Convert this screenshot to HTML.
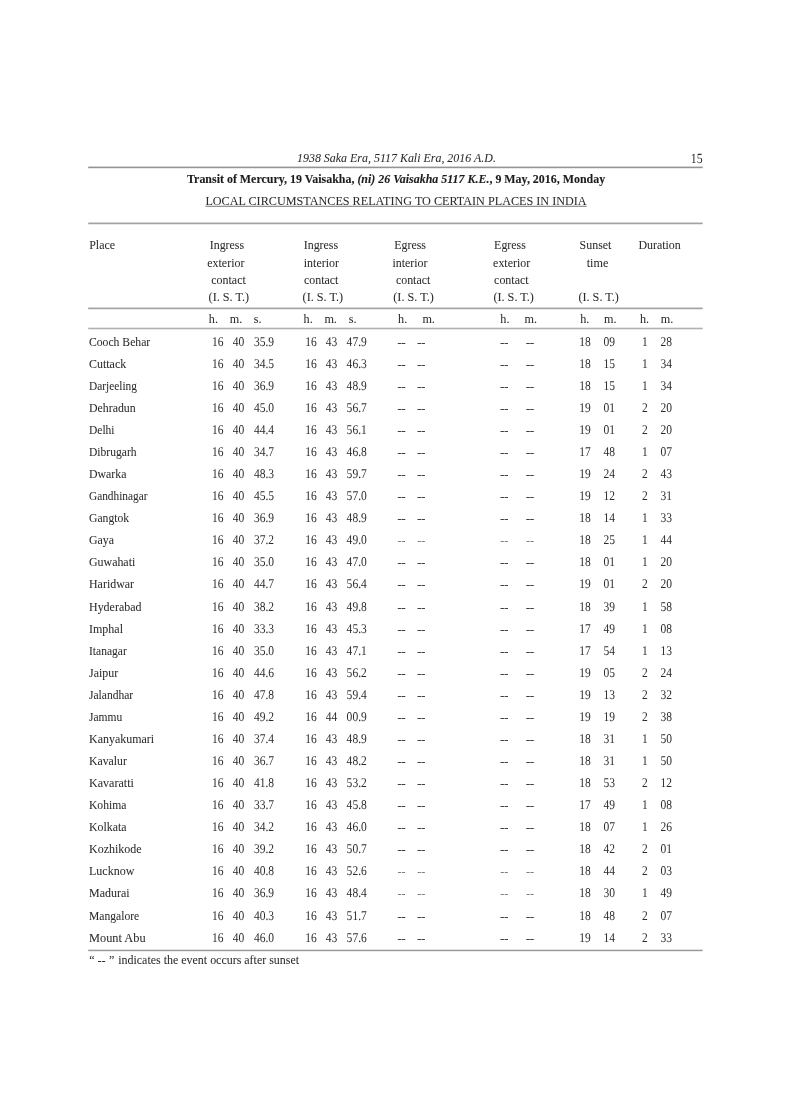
<!DOCTYPE html>
<html><head><meta charset="utf-8"><title>Transit of Mercury - Local Circumstances</title>
<style>
html,body{margin:0;padding:0;background:#fff;}
body{width:791px;height:1119px;overflow:hidden;}
svg{display:block;filter:grayscale(1);}
text{font-family:"Liberation Serif","Times New Roman",serif;font-size:12.7px;fill:#2b2b2b;stroke:#2b2b2b;stroke-width:0.04px;}
.it{font-style:italic;}
.n{text-rendering:geometricPrecision;stroke:none;}
.b{font-weight:bold;fill:#1c1c1c;stroke:#1c1c1c;stroke-width:0.1px;}
.bi{font-style:italic;}
.d{fill:#3c3c3c;stroke:#3c3c3c;stroke-width:0.25px;}
.d.light{fill:#7a7a7a;stroke:#7a7a7a;stroke-width:0px;}
</style></head>
<body>
<svg width="791" height="1119" viewBox="0 0 791 1119">

<g>
<rect x="0" y="0" width="791" height="1119" fill="#fff"/>
<rect x="88.2" y="166.60" width="614.5" height="1.6" fill="#939393"/>
<rect x="88.2" y="222.55" width="614.5" height="1.7" fill="#a2a2a2"/>
<rect x="88.2" y="307.55" width="614.5" height="1.7" fill="#a2a2a2"/>
<rect x="88.2" y="327.70" width="614.5" height="1.6" fill="#b0b0b0"/>
<rect x="88.2" y="949.70" width="614.5" height="1.5" fill="#9a9a9a"/>
<rect x="205.4" y="205.8" width="381.2" height="0.9" fill="#666"/>
<text x="297.00" y="161.70" class="it" textLength="198.90" lengthAdjust="spacingAndGlyphs" style="font-size:11.86px">1938 Saka Era, 5117 Kali Era, 2016 A.D.</text>
<text transform="translate(702.60 162.80) scale(0.84 1)" class="n" text-anchor="end" style="font-size:14.0px">15</text>
<text x="187.0" y="182.9" class="b" style="font-size:11.94px" textLength="418.2" lengthAdjust="spacingAndGlyphs">Transit of Mercury, 19 Vaisakha, <tspan class="bi">(ni) 26 Vaisakha 5117 K.E.</tspan>, 9 May, 2016, Monday</text>
<text x="205.40" y="205.00" textLength="381.20" lengthAdjust="spacingAndGlyphs" style="font-size:12.16px">LOCAL CIRCUMSTANCES RELATING TO CERTAIN PLACES IN INDIA</text>
<text transform="translate(89.20 249.30) scale(0.94 1)">Place</text>
<text transform="translate(209.70 249.30) scale(0.94 1)">Ingress</text>
<text transform="translate(207.30 266.60) scale(0.94 1)">exterior</text>
<text transform="translate(211.30 283.50) scale(0.94 1)">contact</text>
<text transform="translate(208.60 300.60) scale(0.96 1)">(I. S. T.)</text>
<text transform="translate(303.70 249.30) scale(0.94 1)">Ingress</text>
<text transform="translate(303.80 266.60) scale(0.94 1)">interior</text>
<text transform="translate(304.00 283.50) scale(0.94 1)">contact</text>
<text transform="translate(302.60 300.60) scale(0.96 1)">(I. S. T.)</text>
<text transform="translate(394.20 249.30) scale(0.94 1)">Egress</text>
<text transform="translate(392.40 266.60) scale(0.94 1)">interior</text>
<text transform="translate(395.90 283.50) scale(0.94 1)">contact</text>
<text transform="translate(393.30 300.60) scale(0.96 1)">(I. S. T.)</text>
<text transform="translate(494.10 249.30) scale(0.94 1)">Egress</text>
<text transform="translate(493.10 266.60) scale(0.94 1)">exterior</text>
<text transform="translate(494.10 283.50) scale(0.94 1)">contact</text>
<text transform="translate(493.40 300.60) scale(0.96 1)">(I. S. T.)</text>
<text transform="translate(579.60 249.30) scale(0.94 1)">Sunset</text>
<text transform="translate(586.70 266.60) scale(0.96 1)">time</text>
<text transform="translate(578.40 300.60) scale(0.96 1)">(I. S. T.)</text>
<text transform="translate(638.40 249.30) scale(0.94 1)">Duration</text>
<text transform="translate(208.80 323.30) scale(0.96 1)">h.</text>
<text transform="translate(229.80 323.30) scale(0.96 1)">m.</text>
<text transform="translate(253.70 323.30) scale(0.96 1)">s.</text>
<text transform="translate(303.60 323.30) scale(0.96 1)">h.</text>
<text transform="translate(324.40 323.30) scale(0.96 1)">m.</text>
<text transform="translate(348.70 323.30) scale(0.96 1)">s.</text>
<text transform="translate(398.10 323.30) scale(0.96 1)">h.</text>
<text transform="translate(422.40 323.30) scale(0.96 1)">m.</text>
<text transform="translate(500.30 323.30) scale(0.96 1)">h.</text>
<text transform="translate(524.60 323.30) scale(0.96 1)">m.</text>
<text transform="translate(580.20 323.30) scale(0.96 1)">h.</text>
<text transform="translate(604.10 323.30) scale(0.96 1)">m.</text>
<text transform="translate(639.90 323.30) scale(0.96 1)">h.</text>
<text transform="translate(660.70 323.30) scale(0.96 1)">m.</text>
<text transform="translate(89.00 345.70) scale(0.9188 1)">Cooch Behar</text>
<text transform="translate(217.70 345.70) scale(0.86 1)" class="n" text-anchor="middle" style="font-size:13.4px">16</text>
<text transform="translate(238.45 345.70) scale(0.86 1)" class="n" text-anchor="middle" style="font-size:13.4px">40</text>
<text transform="translate(264.00 345.70) scale(0.86 1)" class="n" text-anchor="middle" style="font-size:13.4px">35.9</text>
<text transform="translate(310.90 345.70) scale(0.86 1)" class="n" text-anchor="middle" style="font-size:13.4px">16</text>
<text transform="translate(331.40 345.70) scale(0.86 1)" class="n" text-anchor="middle" style="font-size:13.4px">43</text>
<text transform="translate(356.70 345.70) scale(0.86 1)" class="n" text-anchor="middle" style="font-size:13.4px">47.9</text>
<text transform="translate(397.50 345.70) scale(0.96 1)" class="d">--</text>
<text transform="translate(417.30 345.70) scale(0.96 1)" class="d">--</text>
<text transform="translate(500.30 345.70) scale(0.96 1)" class="d">--</text>
<text transform="translate(525.90 345.70) scale(0.96 1)" class="d">--</text>
<text transform="translate(585.00 345.70) scale(0.86 1)" class="n" text-anchor="middle" style="font-size:13.4px">18</text>
<text transform="translate(609.30 345.70) scale(0.86 1)" class="n" text-anchor="middle" style="font-size:13.4px">09</text>
<text transform="translate(644.95 345.70) scale(0.86 1)" class="n" text-anchor="middle" style="font-size:13.4px">1</text>
<text transform="translate(666.20 345.70) scale(0.86 1)" class="n" text-anchor="middle" style="font-size:13.4px">28</text>
<text transform="translate(89.00 367.77) scale(0.9424 1)">Cuttack</text>
<text transform="translate(217.70 367.77) scale(0.86 1)" class="n" text-anchor="middle" style="font-size:13.4px">16</text>
<text transform="translate(238.45 367.77) scale(0.86 1)" class="n" text-anchor="middle" style="font-size:13.4px">40</text>
<text transform="translate(264.00 367.77) scale(0.86 1)" class="n" text-anchor="middle" style="font-size:13.4px">34.5</text>
<text transform="translate(310.90 367.77) scale(0.86 1)" class="n" text-anchor="middle" style="font-size:13.4px">16</text>
<text transform="translate(331.40 367.77) scale(0.86 1)" class="n" text-anchor="middle" style="font-size:13.4px">43</text>
<text transform="translate(356.70 367.77) scale(0.86 1)" class="n" text-anchor="middle" style="font-size:13.4px">46.3</text>
<text transform="translate(397.50 367.77) scale(0.96 1)" class="d">--</text>
<text transform="translate(417.30 367.77) scale(0.96 1)" class="d">--</text>
<text transform="translate(500.30 367.77) scale(0.96 1)" class="d">--</text>
<text transform="translate(525.90 367.77) scale(0.96 1)" class="d">--</text>
<text transform="translate(585.00 367.77) scale(0.86 1)" class="n" text-anchor="middle" style="font-size:13.4px">18</text>
<text transform="translate(609.30 367.77) scale(0.86 1)" class="n" text-anchor="middle" style="font-size:13.4px">15</text>
<text transform="translate(644.95 367.77) scale(0.86 1)" class="n" text-anchor="middle" style="font-size:13.4px">1</text>
<text transform="translate(666.20 367.77) scale(0.86 1)" class="n" text-anchor="middle" style="font-size:13.4px">34</text>
<text transform="translate(89.00 389.84) scale(0.8955 1)">Darjeeling</text>
<text transform="translate(217.70 389.84) scale(0.86 1)" class="n" text-anchor="middle" style="font-size:13.4px">16</text>
<text transform="translate(238.45 389.84) scale(0.86 1)" class="n" text-anchor="middle" style="font-size:13.4px">40</text>
<text transform="translate(264.00 389.84) scale(0.86 1)" class="n" text-anchor="middle" style="font-size:13.4px">36.9</text>
<text transform="translate(310.90 389.84) scale(0.86 1)" class="n" text-anchor="middle" style="font-size:13.4px">16</text>
<text transform="translate(331.40 389.84) scale(0.86 1)" class="n" text-anchor="middle" style="font-size:13.4px">43</text>
<text transform="translate(356.70 389.84) scale(0.86 1)" class="n" text-anchor="middle" style="font-size:13.4px">48.9</text>
<text transform="translate(397.50 389.84) scale(0.96 1)" class="d">--</text>
<text transform="translate(417.30 389.84) scale(0.96 1)" class="d">--</text>
<text transform="translate(500.30 389.84) scale(0.96 1)" class="d">--</text>
<text transform="translate(525.90 389.84) scale(0.96 1)" class="d">--</text>
<text transform="translate(585.00 389.84) scale(0.86 1)" class="n" text-anchor="middle" style="font-size:13.4px">18</text>
<text transform="translate(609.30 389.84) scale(0.86 1)" class="n" text-anchor="middle" style="font-size:13.4px">15</text>
<text transform="translate(644.95 389.84) scale(0.86 1)" class="n" text-anchor="middle" style="font-size:13.4px">1</text>
<text transform="translate(666.20 389.84) scale(0.86 1)" class="n" text-anchor="middle" style="font-size:13.4px">34</text>
<text transform="translate(89.00 411.91) scale(0.934 1)">Dehradun</text>
<text transform="translate(217.70 411.91) scale(0.86 1)" class="n" text-anchor="middle" style="font-size:13.4px">16</text>
<text transform="translate(238.45 411.91) scale(0.86 1)" class="n" text-anchor="middle" style="font-size:13.4px">40</text>
<text transform="translate(264.00 411.91) scale(0.86 1)" class="n" text-anchor="middle" style="font-size:13.4px">45.0</text>
<text transform="translate(310.90 411.91) scale(0.86 1)" class="n" text-anchor="middle" style="font-size:13.4px">16</text>
<text transform="translate(331.40 411.91) scale(0.86 1)" class="n" text-anchor="middle" style="font-size:13.4px">43</text>
<text transform="translate(356.70 411.91) scale(0.86 1)" class="n" text-anchor="middle" style="font-size:13.4px">56.7</text>
<text transform="translate(397.50 411.91) scale(0.96 1)" class="d">--</text>
<text transform="translate(417.30 411.91) scale(0.96 1)" class="d">--</text>
<text transform="translate(500.30 411.91) scale(0.96 1)" class="d">--</text>
<text transform="translate(525.90 411.91) scale(0.96 1)" class="d">--</text>
<text transform="translate(585.00 411.91) scale(0.86 1)" class="n" text-anchor="middle" style="font-size:13.4px">19</text>
<text transform="translate(609.30 411.91) scale(0.86 1)" class="n" text-anchor="middle" style="font-size:13.4px">01</text>
<text transform="translate(644.95 411.91) scale(0.86 1)" class="n" text-anchor="middle" style="font-size:13.4px">2</text>
<text transform="translate(666.20 411.91) scale(0.86 1)" class="n" text-anchor="middle" style="font-size:13.4px">20</text>
<text transform="translate(89.00 433.98) scale(0.9057 1)">Delhi</text>
<text transform="translate(217.70 433.98) scale(0.86 1)" class="n" text-anchor="middle" style="font-size:13.4px">16</text>
<text transform="translate(238.45 433.98) scale(0.86 1)" class="n" text-anchor="middle" style="font-size:13.4px">40</text>
<text transform="translate(264.00 433.98) scale(0.86 1)" class="n" text-anchor="middle" style="font-size:13.4px">44.4</text>
<text transform="translate(310.90 433.98) scale(0.86 1)" class="n" text-anchor="middle" style="font-size:13.4px">16</text>
<text transform="translate(331.40 433.98) scale(0.86 1)" class="n" text-anchor="middle" style="font-size:13.4px">43</text>
<text transform="translate(356.70 433.98) scale(0.86 1)" class="n" text-anchor="middle" style="font-size:13.4px">56.1</text>
<text transform="translate(397.50 433.98) scale(0.96 1)" class="d">--</text>
<text transform="translate(417.30 433.98) scale(0.96 1)" class="d">--</text>
<text transform="translate(500.30 433.98) scale(0.96 1)" class="d">--</text>
<text transform="translate(525.90 433.98) scale(0.96 1)" class="d">--</text>
<text transform="translate(585.00 433.98) scale(0.86 1)" class="n" text-anchor="middle" style="font-size:13.4px">19</text>
<text transform="translate(609.30 433.98) scale(0.86 1)" class="n" text-anchor="middle" style="font-size:13.4px">01</text>
<text transform="translate(644.95 433.98) scale(0.86 1)" class="n" text-anchor="middle" style="font-size:13.4px">2</text>
<text transform="translate(666.20 433.98) scale(0.86 1)" class="n" text-anchor="middle" style="font-size:13.4px">20</text>
<text transform="translate(89.00 456.05) scale(0.9125 1)">Dibrugarh</text>
<text transform="translate(217.70 456.05) scale(0.86 1)" class="n" text-anchor="middle" style="font-size:13.4px">16</text>
<text transform="translate(238.45 456.05) scale(0.86 1)" class="n" text-anchor="middle" style="font-size:13.4px">40</text>
<text transform="translate(264.00 456.05) scale(0.86 1)" class="n" text-anchor="middle" style="font-size:13.4px">34.7</text>
<text transform="translate(310.90 456.05) scale(0.86 1)" class="n" text-anchor="middle" style="font-size:13.4px">16</text>
<text transform="translate(331.40 456.05) scale(0.86 1)" class="n" text-anchor="middle" style="font-size:13.4px">43</text>
<text transform="translate(356.70 456.05) scale(0.86 1)" class="n" text-anchor="middle" style="font-size:13.4px">46.8</text>
<text transform="translate(397.50 456.05) scale(0.96 1)" class="d">--</text>
<text transform="translate(417.30 456.05) scale(0.96 1)" class="d">--</text>
<text transform="translate(500.30 456.05) scale(0.96 1)" class="d">--</text>
<text transform="translate(525.90 456.05) scale(0.96 1)" class="d">--</text>
<text transform="translate(585.00 456.05) scale(0.86 1)" class="n" text-anchor="middle" style="font-size:13.4px">17</text>
<text transform="translate(609.30 456.05) scale(0.86 1)" class="n" text-anchor="middle" style="font-size:13.4px">48</text>
<text transform="translate(644.95 456.05) scale(0.86 1)" class="n" text-anchor="middle" style="font-size:13.4px">1</text>
<text transform="translate(666.20 456.05) scale(0.86 1)" class="n" text-anchor="middle" style="font-size:13.4px">07</text>
<text transform="translate(89.00 478.12) scale(0.9327 1)">Dwarka</text>
<text transform="translate(217.70 478.12) scale(0.86 1)" class="n" text-anchor="middle" style="font-size:13.4px">16</text>
<text transform="translate(238.45 478.12) scale(0.86 1)" class="n" text-anchor="middle" style="font-size:13.4px">40</text>
<text transform="translate(264.00 478.12) scale(0.86 1)" class="n" text-anchor="middle" style="font-size:13.4px">48.3</text>
<text transform="translate(310.90 478.12) scale(0.86 1)" class="n" text-anchor="middle" style="font-size:13.4px">16</text>
<text transform="translate(331.40 478.12) scale(0.86 1)" class="n" text-anchor="middle" style="font-size:13.4px">43</text>
<text transform="translate(356.70 478.12) scale(0.86 1)" class="n" text-anchor="middle" style="font-size:13.4px">59.7</text>
<text transform="translate(397.50 478.12) scale(0.96 1)" class="d">--</text>
<text transform="translate(417.30 478.12) scale(0.96 1)" class="d">--</text>
<text transform="translate(500.30 478.12) scale(0.96 1)" class="d">--</text>
<text transform="translate(525.90 478.12) scale(0.96 1)" class="d">--</text>
<text transform="translate(585.00 478.12) scale(0.86 1)" class="n" text-anchor="middle" style="font-size:13.4px">19</text>
<text transform="translate(609.30 478.12) scale(0.86 1)" class="n" text-anchor="middle" style="font-size:13.4px">24</text>
<text transform="translate(644.95 478.12) scale(0.86 1)" class="n" text-anchor="middle" style="font-size:13.4px">2</text>
<text transform="translate(666.20 478.12) scale(0.86 1)" class="n" text-anchor="middle" style="font-size:13.4px">43</text>
<text transform="translate(89.00 500.19) scale(0.8923 1)">Gandhinagar</text>
<text transform="translate(217.70 500.19) scale(0.86 1)" class="n" text-anchor="middle" style="font-size:13.4px">16</text>
<text transform="translate(238.45 500.19) scale(0.86 1)" class="n" text-anchor="middle" style="font-size:13.4px">40</text>
<text transform="translate(264.00 500.19) scale(0.86 1)" class="n" text-anchor="middle" style="font-size:13.4px">45.5</text>
<text transform="translate(310.90 500.19) scale(0.86 1)" class="n" text-anchor="middle" style="font-size:13.4px">16</text>
<text transform="translate(331.40 500.19) scale(0.86 1)" class="n" text-anchor="middle" style="font-size:13.4px">43</text>
<text transform="translate(356.70 500.19) scale(0.86 1)" class="n" text-anchor="middle" style="font-size:13.4px">57.0</text>
<text transform="translate(397.50 500.19) scale(0.96 1)" class="d">--</text>
<text transform="translate(417.30 500.19) scale(0.96 1)" class="d">--</text>
<text transform="translate(500.30 500.19) scale(0.96 1)" class="d">--</text>
<text transform="translate(525.90 500.19) scale(0.96 1)" class="d">--</text>
<text transform="translate(585.00 500.19) scale(0.86 1)" class="n" text-anchor="middle" style="font-size:13.4px">19</text>
<text transform="translate(609.30 500.19) scale(0.86 1)" class="n" text-anchor="middle" style="font-size:13.4px">12</text>
<text transform="translate(644.95 500.19) scale(0.86 1)" class="n" text-anchor="middle" style="font-size:13.4px">2</text>
<text transform="translate(666.20 500.19) scale(0.86 1)" class="n" text-anchor="middle" style="font-size:13.4px">31</text>
<text transform="translate(89.00 522.26) scale(0.9166 1)">Gangtok</text>
<text transform="translate(217.70 522.26) scale(0.86 1)" class="n" text-anchor="middle" style="font-size:13.4px">16</text>
<text transform="translate(238.45 522.26) scale(0.86 1)" class="n" text-anchor="middle" style="font-size:13.4px">40</text>
<text transform="translate(264.00 522.26) scale(0.86 1)" class="n" text-anchor="middle" style="font-size:13.4px">36.9</text>
<text transform="translate(310.90 522.26) scale(0.86 1)" class="n" text-anchor="middle" style="font-size:13.4px">16</text>
<text transform="translate(331.40 522.26) scale(0.86 1)" class="n" text-anchor="middle" style="font-size:13.4px">43</text>
<text transform="translate(356.70 522.26) scale(0.86 1)" class="n" text-anchor="middle" style="font-size:13.4px">48.9</text>
<text transform="translate(397.50 522.26) scale(0.96 1)" class="d">--</text>
<text transform="translate(417.30 522.26) scale(0.96 1)" class="d">--</text>
<text transform="translate(500.30 522.26) scale(0.96 1)" class="d">--</text>
<text transform="translate(525.90 522.26) scale(0.96 1)" class="d">--</text>
<text transform="translate(585.00 522.26) scale(0.86 1)" class="n" text-anchor="middle" style="font-size:13.4px">18</text>
<text transform="translate(609.30 522.26) scale(0.86 1)" class="n" text-anchor="middle" style="font-size:13.4px">14</text>
<text transform="translate(644.95 522.26) scale(0.86 1)" class="n" text-anchor="middle" style="font-size:13.4px">1</text>
<text transform="translate(666.20 522.26) scale(0.86 1)" class="n" text-anchor="middle" style="font-size:13.4px">33</text>
<text transform="translate(89.00 544.33) scale(0.9343 1)">Gaya</text>
<text transform="translate(217.70 544.33) scale(0.86 1)" class="n" text-anchor="middle" style="font-size:13.4px">16</text>
<text transform="translate(238.45 544.33) scale(0.86 1)" class="n" text-anchor="middle" style="font-size:13.4px">40</text>
<text transform="translate(264.00 544.33) scale(0.86 1)" class="n" text-anchor="middle" style="font-size:13.4px">37.2</text>
<text transform="translate(310.90 544.33) scale(0.86 1)" class="n" text-anchor="middle" style="font-size:13.4px">16</text>
<text transform="translate(331.40 544.33) scale(0.86 1)" class="n" text-anchor="middle" style="font-size:13.4px">43</text>
<text transform="translate(356.70 544.33) scale(0.86 1)" class="n" text-anchor="middle" style="font-size:13.4px">49.0</text>
<text transform="translate(397.50 544.33) scale(0.96 1)" class="d light">--</text>
<text transform="translate(417.30 544.33) scale(0.96 1)" class="d light">--</text>
<text transform="translate(500.30 544.33) scale(0.96 1)" class="d light">--</text>
<text transform="translate(525.90 544.33) scale(0.96 1)" class="d light">--</text>
<text transform="translate(585.00 544.33) scale(0.86 1)" class="n" text-anchor="middle" style="font-size:13.4px">18</text>
<text transform="translate(609.30 544.33) scale(0.86 1)" class="n" text-anchor="middle" style="font-size:13.4px">25</text>
<text transform="translate(644.95 544.33) scale(0.86 1)" class="n" text-anchor="middle" style="font-size:13.4px">1</text>
<text transform="translate(666.20 544.33) scale(0.86 1)" class="n" text-anchor="middle" style="font-size:13.4px">44</text>
<text transform="translate(89.00 566.40) scale(0.9377 1)">Guwahati</text>
<text transform="translate(217.70 566.40) scale(0.86 1)" class="n" text-anchor="middle" style="font-size:13.4px">16</text>
<text transform="translate(238.45 566.40) scale(0.86 1)" class="n" text-anchor="middle" style="font-size:13.4px">40</text>
<text transform="translate(264.00 566.40) scale(0.86 1)" class="n" text-anchor="middle" style="font-size:13.4px">35.0</text>
<text transform="translate(310.90 566.40) scale(0.86 1)" class="n" text-anchor="middle" style="font-size:13.4px">16</text>
<text transform="translate(331.40 566.40) scale(0.86 1)" class="n" text-anchor="middle" style="font-size:13.4px">43</text>
<text transform="translate(356.70 566.40) scale(0.86 1)" class="n" text-anchor="middle" style="font-size:13.4px">47.0</text>
<text transform="translate(397.50 566.40) scale(0.96 1)" class="d">--</text>
<text transform="translate(417.30 566.40) scale(0.96 1)" class="d">--</text>
<text transform="translate(500.30 566.40) scale(0.96 1)" class="d">--</text>
<text transform="translate(525.90 566.40) scale(0.96 1)" class="d">--</text>
<text transform="translate(585.00 566.40) scale(0.86 1)" class="n" text-anchor="middle" style="font-size:13.4px">18</text>
<text transform="translate(609.30 566.40) scale(0.86 1)" class="n" text-anchor="middle" style="font-size:13.4px">01</text>
<text transform="translate(644.95 566.40) scale(0.86 1)" class="n" text-anchor="middle" style="font-size:13.4px">1</text>
<text transform="translate(666.20 566.40) scale(0.86 1)" class="n" text-anchor="middle" style="font-size:13.4px">20</text>
<text transform="translate(89.00 588.47) scale(0.9399 1)">Haridwar</text>
<text transform="translate(217.70 588.47) scale(0.86 1)" class="n" text-anchor="middle" style="font-size:13.4px">16</text>
<text transform="translate(238.45 588.47) scale(0.86 1)" class="n" text-anchor="middle" style="font-size:13.4px">40</text>
<text transform="translate(264.00 588.47) scale(0.86 1)" class="n" text-anchor="middle" style="font-size:13.4px">44.7</text>
<text transform="translate(310.90 588.47) scale(0.86 1)" class="n" text-anchor="middle" style="font-size:13.4px">16</text>
<text transform="translate(331.40 588.47) scale(0.86 1)" class="n" text-anchor="middle" style="font-size:13.4px">43</text>
<text transform="translate(356.70 588.47) scale(0.86 1)" class="n" text-anchor="middle" style="font-size:13.4px">56.4</text>
<text transform="translate(397.50 588.47) scale(0.96 1)" class="d">--</text>
<text transform="translate(417.30 588.47) scale(0.96 1)" class="d">--</text>
<text transform="translate(500.30 588.47) scale(0.96 1)" class="d">--</text>
<text transform="translate(525.90 588.47) scale(0.96 1)" class="d">--</text>
<text transform="translate(585.00 588.47) scale(0.86 1)" class="n" text-anchor="middle" style="font-size:13.4px">19</text>
<text transform="translate(609.30 588.47) scale(0.86 1)" class="n" text-anchor="middle" style="font-size:13.4px">01</text>
<text transform="translate(644.95 588.47) scale(0.86 1)" class="n" text-anchor="middle" style="font-size:13.4px">2</text>
<text transform="translate(666.20 588.47) scale(0.86 1)" class="n" text-anchor="middle" style="font-size:13.4px">20</text>
<text transform="translate(89.00 610.54) scale(0.9428 1)">Hyderabad</text>
<text transform="translate(217.70 610.54) scale(0.86 1)" class="n" text-anchor="middle" style="font-size:13.4px">16</text>
<text transform="translate(238.45 610.54) scale(0.86 1)" class="n" text-anchor="middle" style="font-size:13.4px">40</text>
<text transform="translate(264.00 610.54) scale(0.86 1)" class="n" text-anchor="middle" style="font-size:13.4px">38.2</text>
<text transform="translate(310.90 610.54) scale(0.86 1)" class="n" text-anchor="middle" style="font-size:13.4px">16</text>
<text transform="translate(331.40 610.54) scale(0.86 1)" class="n" text-anchor="middle" style="font-size:13.4px">43</text>
<text transform="translate(356.70 610.54) scale(0.86 1)" class="n" text-anchor="middle" style="font-size:13.4px">49.8</text>
<text transform="translate(397.50 610.54) scale(0.96 1)" class="d">--</text>
<text transform="translate(417.30 610.54) scale(0.96 1)" class="d">--</text>
<text transform="translate(500.30 610.54) scale(0.96 1)" class="d">--</text>
<text transform="translate(525.90 610.54) scale(0.96 1)" class="d">--</text>
<text transform="translate(585.00 610.54) scale(0.86 1)" class="n" text-anchor="middle" style="font-size:13.4px">18</text>
<text transform="translate(609.30 610.54) scale(0.86 1)" class="n" text-anchor="middle" style="font-size:13.4px">39</text>
<text transform="translate(644.95 610.54) scale(0.86 1)" class="n" text-anchor="middle" style="font-size:13.4px">1</text>
<text transform="translate(666.20 610.54) scale(0.86 1)" class="n" text-anchor="middle" style="font-size:13.4px">58</text>
<text transform="translate(89.00 632.61) scale(0.9458 1)">Imphal</text>
<text transform="translate(217.70 632.61) scale(0.86 1)" class="n" text-anchor="middle" style="font-size:13.4px">16</text>
<text transform="translate(238.45 632.61) scale(0.86 1)" class="n" text-anchor="middle" style="font-size:13.4px">40</text>
<text transform="translate(264.00 632.61) scale(0.86 1)" class="n" text-anchor="middle" style="font-size:13.4px">33.3</text>
<text transform="translate(310.90 632.61) scale(0.86 1)" class="n" text-anchor="middle" style="font-size:13.4px">16</text>
<text transform="translate(331.40 632.61) scale(0.86 1)" class="n" text-anchor="middle" style="font-size:13.4px">43</text>
<text transform="translate(356.70 632.61) scale(0.86 1)" class="n" text-anchor="middle" style="font-size:13.4px">45.3</text>
<text transform="translate(397.50 632.61) scale(0.96 1)" class="d">--</text>
<text transform="translate(417.30 632.61) scale(0.96 1)" class="d">--</text>
<text transform="translate(500.30 632.61) scale(0.96 1)" class="d">--</text>
<text transform="translate(525.90 632.61) scale(0.96 1)" class="d">--</text>
<text transform="translate(585.00 632.61) scale(0.86 1)" class="n" text-anchor="middle" style="font-size:13.4px">17</text>
<text transform="translate(609.30 632.61) scale(0.86 1)" class="n" text-anchor="middle" style="font-size:13.4px">49</text>
<text transform="translate(644.95 632.61) scale(0.86 1)" class="n" text-anchor="middle" style="font-size:13.4px">1</text>
<text transform="translate(666.20 632.61) scale(0.86 1)" class="n" text-anchor="middle" style="font-size:13.4px">08</text>
<text transform="translate(89.00 654.68) scale(0.9081 1)">Itanagar</text>
<text transform="translate(217.70 654.68) scale(0.86 1)" class="n" text-anchor="middle" style="font-size:13.4px">16</text>
<text transform="translate(238.45 654.68) scale(0.86 1)" class="n" text-anchor="middle" style="font-size:13.4px">40</text>
<text transform="translate(264.00 654.68) scale(0.86 1)" class="n" text-anchor="middle" style="font-size:13.4px">35.0</text>
<text transform="translate(310.90 654.68) scale(0.86 1)" class="n" text-anchor="middle" style="font-size:13.4px">16</text>
<text transform="translate(331.40 654.68) scale(0.86 1)" class="n" text-anchor="middle" style="font-size:13.4px">43</text>
<text transform="translate(356.70 654.68) scale(0.86 1)" class="n" text-anchor="middle" style="font-size:13.4px">47.1</text>
<text transform="translate(397.50 654.68) scale(0.96 1)" class="d">--</text>
<text transform="translate(417.30 654.68) scale(0.96 1)" class="d">--</text>
<text transform="translate(500.30 654.68) scale(0.96 1)" class="d">--</text>
<text transform="translate(525.90 654.68) scale(0.96 1)" class="d">--</text>
<text transform="translate(585.00 654.68) scale(0.86 1)" class="n" text-anchor="middle" style="font-size:13.4px">17</text>
<text transform="translate(609.30 654.68) scale(0.86 1)" class="n" text-anchor="middle" style="font-size:13.4px">54</text>
<text transform="translate(644.95 654.68) scale(0.86 1)" class="n" text-anchor="middle" style="font-size:13.4px">1</text>
<text transform="translate(666.20 654.68) scale(0.86 1)" class="n" text-anchor="middle" style="font-size:13.4px">13</text>
<text transform="translate(89.00 676.75) scale(0.9396 1)">Jaipur</text>
<text transform="translate(217.70 676.75) scale(0.86 1)" class="n" text-anchor="middle" style="font-size:13.4px">16</text>
<text transform="translate(238.45 676.75) scale(0.86 1)" class="n" text-anchor="middle" style="font-size:13.4px">40</text>
<text transform="translate(264.00 676.75) scale(0.86 1)" class="n" text-anchor="middle" style="font-size:13.4px">44.6</text>
<text transform="translate(310.90 676.75) scale(0.86 1)" class="n" text-anchor="middle" style="font-size:13.4px">16</text>
<text transform="translate(331.40 676.75) scale(0.86 1)" class="n" text-anchor="middle" style="font-size:13.4px">43</text>
<text transform="translate(356.70 676.75) scale(0.86 1)" class="n" text-anchor="middle" style="font-size:13.4px">56.2</text>
<text transform="translate(397.50 676.75) scale(0.96 1)" class="d">--</text>
<text transform="translate(417.30 676.75) scale(0.96 1)" class="d">--</text>
<text transform="translate(500.30 676.75) scale(0.96 1)" class="d">--</text>
<text transform="translate(525.90 676.75) scale(0.96 1)" class="d">--</text>
<text transform="translate(585.00 676.75) scale(0.86 1)" class="n" text-anchor="middle" style="font-size:13.4px">19</text>
<text transform="translate(609.30 676.75) scale(0.86 1)" class="n" text-anchor="middle" style="font-size:13.4px">05</text>
<text transform="translate(644.95 676.75) scale(0.86 1)" class="n" text-anchor="middle" style="font-size:13.4px">2</text>
<text transform="translate(666.20 676.75) scale(0.86 1)" class="n" text-anchor="middle" style="font-size:13.4px">24</text>
<text transform="translate(89.00 698.82) scale(0.9083 1)">Jalandhar</text>
<text transform="translate(217.70 698.82) scale(0.86 1)" class="n" text-anchor="middle" style="font-size:13.4px">16</text>
<text transform="translate(238.45 698.82) scale(0.86 1)" class="n" text-anchor="middle" style="font-size:13.4px">40</text>
<text transform="translate(264.00 698.82) scale(0.86 1)" class="n" text-anchor="middle" style="font-size:13.4px">47.8</text>
<text transform="translate(310.90 698.82) scale(0.86 1)" class="n" text-anchor="middle" style="font-size:13.4px">16</text>
<text transform="translate(331.40 698.82) scale(0.86 1)" class="n" text-anchor="middle" style="font-size:13.4px">43</text>
<text transform="translate(356.70 698.82) scale(0.86 1)" class="n" text-anchor="middle" style="font-size:13.4px">59.4</text>
<text transform="translate(397.50 698.82) scale(0.96 1)" class="d">--</text>
<text transform="translate(417.30 698.82) scale(0.96 1)" class="d">--</text>
<text transform="translate(500.30 698.82) scale(0.96 1)" class="d">--</text>
<text transform="translate(525.90 698.82) scale(0.96 1)" class="d">--</text>
<text transform="translate(585.00 698.82) scale(0.86 1)" class="n" text-anchor="middle" style="font-size:13.4px">19</text>
<text transform="translate(609.30 698.82) scale(0.86 1)" class="n" text-anchor="middle" style="font-size:13.4px">13</text>
<text transform="translate(644.95 698.82) scale(0.86 1)" class="n" text-anchor="middle" style="font-size:13.4px">2</text>
<text transform="translate(666.20 698.82) scale(0.86 1)" class="n" text-anchor="middle" style="font-size:13.4px">32</text>
<text transform="translate(89.00 720.89) scale(0.9065 1)">Jammu</text>
<text transform="translate(217.70 720.89) scale(0.86 1)" class="n" text-anchor="middle" style="font-size:13.4px">16</text>
<text transform="translate(238.45 720.89) scale(0.86 1)" class="n" text-anchor="middle" style="font-size:13.4px">40</text>
<text transform="translate(264.00 720.89) scale(0.86 1)" class="n" text-anchor="middle" style="font-size:13.4px">49.2</text>
<text transform="translate(310.90 720.89) scale(0.86 1)" class="n" text-anchor="middle" style="font-size:13.4px">16</text>
<text transform="translate(331.40 720.89) scale(0.86 1)" class="n" text-anchor="middle" style="font-size:13.4px">44</text>
<text transform="translate(356.70 720.89) scale(0.86 1)" class="n" text-anchor="middle" style="font-size:13.4px">00.9</text>
<text transform="translate(397.50 720.89) scale(0.96 1)" class="d">--</text>
<text transform="translate(417.30 720.89) scale(0.96 1)" class="d">--</text>
<text transform="translate(500.30 720.89) scale(0.96 1)" class="d">--</text>
<text transform="translate(525.90 720.89) scale(0.96 1)" class="d">--</text>
<text transform="translate(585.00 720.89) scale(0.86 1)" class="n" text-anchor="middle" style="font-size:13.4px">19</text>
<text transform="translate(609.30 720.89) scale(0.86 1)" class="n" text-anchor="middle" style="font-size:13.4px">19</text>
<text transform="translate(644.95 720.89) scale(0.86 1)" class="n" text-anchor="middle" style="font-size:13.4px">2</text>
<text transform="translate(666.20 720.89) scale(0.86 1)" class="n" text-anchor="middle" style="font-size:13.4px">38</text>
<text transform="translate(89.00 742.96) scale(0.9426 1)">Kanyakumari</text>
<text transform="translate(217.70 742.96) scale(0.86 1)" class="n" text-anchor="middle" style="font-size:13.4px">16</text>
<text transform="translate(238.45 742.96) scale(0.86 1)" class="n" text-anchor="middle" style="font-size:13.4px">40</text>
<text transform="translate(264.00 742.96) scale(0.86 1)" class="n" text-anchor="middle" style="font-size:13.4px">37.4</text>
<text transform="translate(310.90 742.96) scale(0.86 1)" class="n" text-anchor="middle" style="font-size:13.4px">16</text>
<text transform="translate(331.40 742.96) scale(0.86 1)" class="n" text-anchor="middle" style="font-size:13.4px">43</text>
<text transform="translate(356.70 742.96) scale(0.86 1)" class="n" text-anchor="middle" style="font-size:13.4px">48.9</text>
<text transform="translate(397.50 742.96) scale(0.96 1)" class="d">--</text>
<text transform="translate(417.30 742.96) scale(0.96 1)" class="d">--</text>
<text transform="translate(500.30 742.96) scale(0.96 1)" class="d">--</text>
<text transform="translate(525.90 742.96) scale(0.96 1)" class="d">--</text>
<text transform="translate(585.00 742.96) scale(0.86 1)" class="n" text-anchor="middle" style="font-size:13.4px">18</text>
<text transform="translate(609.30 742.96) scale(0.86 1)" class="n" text-anchor="middle" style="font-size:13.4px">31</text>
<text transform="translate(644.95 742.96) scale(0.86 1)" class="n" text-anchor="middle" style="font-size:13.4px">1</text>
<text transform="translate(666.20 742.96) scale(0.86 1)" class="n" text-anchor="middle" style="font-size:13.4px">50</text>
<text transform="translate(89.00 765.03) scale(0.927 1)">Kavalur</text>
<text transform="translate(217.70 765.03) scale(0.86 1)" class="n" text-anchor="middle" style="font-size:13.4px">16</text>
<text transform="translate(238.45 765.03) scale(0.86 1)" class="n" text-anchor="middle" style="font-size:13.4px">40</text>
<text transform="translate(264.00 765.03) scale(0.86 1)" class="n" text-anchor="middle" style="font-size:13.4px">36.7</text>
<text transform="translate(310.90 765.03) scale(0.86 1)" class="n" text-anchor="middle" style="font-size:13.4px">16</text>
<text transform="translate(331.40 765.03) scale(0.86 1)" class="n" text-anchor="middle" style="font-size:13.4px">43</text>
<text transform="translate(356.70 765.03) scale(0.86 1)" class="n" text-anchor="middle" style="font-size:13.4px">48.2</text>
<text transform="translate(397.50 765.03) scale(0.96 1)" class="d">--</text>
<text transform="translate(417.30 765.03) scale(0.96 1)" class="d">--</text>
<text transform="translate(500.30 765.03) scale(0.96 1)" class="d">--</text>
<text transform="translate(525.90 765.03) scale(0.96 1)" class="d">--</text>
<text transform="translate(585.00 765.03) scale(0.86 1)" class="n" text-anchor="middle" style="font-size:13.4px">18</text>
<text transform="translate(609.30 765.03) scale(0.86 1)" class="n" text-anchor="middle" style="font-size:13.4px">31</text>
<text transform="translate(644.95 765.03) scale(0.86 1)" class="n" text-anchor="middle" style="font-size:13.4px">1</text>
<text transform="translate(666.20 765.03) scale(0.86 1)" class="n" text-anchor="middle" style="font-size:13.4px">50</text>
<text transform="translate(89.00 787.10) scale(0.9516 1)">Kavaratti</text>
<text transform="translate(217.70 787.10) scale(0.86 1)" class="n" text-anchor="middle" style="font-size:13.4px">16</text>
<text transform="translate(238.45 787.10) scale(0.86 1)" class="n" text-anchor="middle" style="font-size:13.4px">40</text>
<text transform="translate(264.00 787.10) scale(0.86 1)" class="n" text-anchor="middle" style="font-size:13.4px">41.8</text>
<text transform="translate(310.90 787.10) scale(0.86 1)" class="n" text-anchor="middle" style="font-size:13.4px">16</text>
<text transform="translate(331.40 787.10) scale(0.86 1)" class="n" text-anchor="middle" style="font-size:13.4px">43</text>
<text transform="translate(356.70 787.10) scale(0.86 1)" class="n" text-anchor="middle" style="font-size:13.4px">53.2</text>
<text transform="translate(397.50 787.10) scale(0.96 1)" class="d">--</text>
<text transform="translate(417.30 787.10) scale(0.96 1)" class="d">--</text>
<text transform="translate(500.30 787.10) scale(0.96 1)" class="d">--</text>
<text transform="translate(525.90 787.10) scale(0.96 1)" class="d">--</text>
<text transform="translate(585.00 787.10) scale(0.86 1)" class="n" text-anchor="middle" style="font-size:13.4px">18</text>
<text transform="translate(609.30 787.10) scale(0.86 1)" class="n" text-anchor="middle" style="font-size:13.4px">53</text>
<text transform="translate(644.95 787.10) scale(0.86 1)" class="n" text-anchor="middle" style="font-size:13.4px">2</text>
<text transform="translate(666.20 787.10) scale(0.86 1)" class="n" text-anchor="middle" style="font-size:13.4px">12</text>
<text transform="translate(89.00 809.17) scale(0.9132 1)">Kohima</text>
<text transform="translate(217.70 809.17) scale(0.86 1)" class="n" text-anchor="middle" style="font-size:13.4px">16</text>
<text transform="translate(238.45 809.17) scale(0.86 1)" class="n" text-anchor="middle" style="font-size:13.4px">40</text>
<text transform="translate(264.00 809.17) scale(0.86 1)" class="n" text-anchor="middle" style="font-size:13.4px">33.7</text>
<text transform="translate(310.90 809.17) scale(0.86 1)" class="n" text-anchor="middle" style="font-size:13.4px">16</text>
<text transform="translate(331.40 809.17) scale(0.86 1)" class="n" text-anchor="middle" style="font-size:13.4px">43</text>
<text transform="translate(356.70 809.17) scale(0.86 1)" class="n" text-anchor="middle" style="font-size:13.4px">45.8</text>
<text transform="translate(397.50 809.17) scale(0.96 1)" class="d">--</text>
<text transform="translate(417.30 809.17) scale(0.96 1)" class="d">--</text>
<text transform="translate(500.30 809.17) scale(0.96 1)" class="d">--</text>
<text transform="translate(525.90 809.17) scale(0.96 1)" class="d">--</text>
<text transform="translate(585.00 809.17) scale(0.86 1)" class="n" text-anchor="middle" style="font-size:13.4px">17</text>
<text transform="translate(609.30 809.17) scale(0.86 1)" class="n" text-anchor="middle" style="font-size:13.4px">49</text>
<text transform="translate(644.95 809.17) scale(0.86 1)" class="n" text-anchor="middle" style="font-size:13.4px">1</text>
<text transform="translate(666.20 809.17) scale(0.86 1)" class="n" text-anchor="middle" style="font-size:13.4px">08</text>
<text transform="translate(89.00 831.24) scale(0.9327 1)">Kolkata</text>
<text transform="translate(217.70 831.24) scale(0.86 1)" class="n" text-anchor="middle" style="font-size:13.4px">16</text>
<text transform="translate(238.45 831.24) scale(0.86 1)" class="n" text-anchor="middle" style="font-size:13.4px">40</text>
<text transform="translate(264.00 831.24) scale(0.86 1)" class="n" text-anchor="middle" style="font-size:13.4px">34.2</text>
<text transform="translate(310.90 831.24) scale(0.86 1)" class="n" text-anchor="middle" style="font-size:13.4px">16</text>
<text transform="translate(331.40 831.24) scale(0.86 1)" class="n" text-anchor="middle" style="font-size:13.4px">43</text>
<text transform="translate(356.70 831.24) scale(0.86 1)" class="n" text-anchor="middle" style="font-size:13.4px">46.0</text>
<text transform="translate(397.50 831.24) scale(0.96 1)" class="d">--</text>
<text transform="translate(417.30 831.24) scale(0.96 1)" class="d">--</text>
<text transform="translate(500.30 831.24) scale(0.96 1)" class="d">--</text>
<text transform="translate(525.90 831.24) scale(0.96 1)" class="d">--</text>
<text transform="translate(585.00 831.24) scale(0.86 1)" class="n" text-anchor="middle" style="font-size:13.4px">18</text>
<text transform="translate(609.30 831.24) scale(0.86 1)" class="n" text-anchor="middle" style="font-size:13.4px">07</text>
<text transform="translate(644.95 831.24) scale(0.86 1)" class="n" text-anchor="middle" style="font-size:13.4px">1</text>
<text transform="translate(666.20 831.24) scale(0.86 1)" class="n" text-anchor="middle" style="font-size:13.4px">26</text>
<text transform="translate(89.00 853.31) scale(0.9442 1)">Kozhikode</text>
<text transform="translate(217.70 853.31) scale(0.86 1)" class="n" text-anchor="middle" style="font-size:13.4px">16</text>
<text transform="translate(238.45 853.31) scale(0.86 1)" class="n" text-anchor="middle" style="font-size:13.4px">40</text>
<text transform="translate(264.00 853.31) scale(0.86 1)" class="n" text-anchor="middle" style="font-size:13.4px">39.2</text>
<text transform="translate(310.90 853.31) scale(0.86 1)" class="n" text-anchor="middle" style="font-size:13.4px">16</text>
<text transform="translate(331.40 853.31) scale(0.86 1)" class="n" text-anchor="middle" style="font-size:13.4px">43</text>
<text transform="translate(356.70 853.31) scale(0.86 1)" class="n" text-anchor="middle" style="font-size:13.4px">50.7</text>
<text transform="translate(397.50 853.31) scale(0.96 1)" class="d">--</text>
<text transform="translate(417.30 853.31) scale(0.96 1)" class="d">--</text>
<text transform="translate(500.30 853.31) scale(0.96 1)" class="d">--</text>
<text transform="translate(525.90 853.31) scale(0.96 1)" class="d">--</text>
<text transform="translate(585.00 853.31) scale(0.86 1)" class="n" text-anchor="middle" style="font-size:13.4px">18</text>
<text transform="translate(609.30 853.31) scale(0.86 1)" class="n" text-anchor="middle" style="font-size:13.4px">42</text>
<text transform="translate(644.95 853.31) scale(0.86 1)" class="n" text-anchor="middle" style="font-size:13.4px">2</text>
<text transform="translate(666.20 853.31) scale(0.86 1)" class="n" text-anchor="middle" style="font-size:13.4px">01</text>
<text transform="translate(89.00 875.38) scale(0.9477 1)">Lucknow</text>
<text transform="translate(217.70 875.38) scale(0.86 1)" class="n" text-anchor="middle" style="font-size:13.4px">16</text>
<text transform="translate(238.45 875.38) scale(0.86 1)" class="n" text-anchor="middle" style="font-size:13.4px">40</text>
<text transform="translate(264.00 875.38) scale(0.86 1)" class="n" text-anchor="middle" style="font-size:13.4px">40.8</text>
<text transform="translate(310.90 875.38) scale(0.86 1)" class="n" text-anchor="middle" style="font-size:13.4px">16</text>
<text transform="translate(331.40 875.38) scale(0.86 1)" class="n" text-anchor="middle" style="font-size:13.4px">43</text>
<text transform="translate(356.70 875.38) scale(0.86 1)" class="n" text-anchor="middle" style="font-size:13.4px">52.6</text>
<text transform="translate(397.50 875.38) scale(0.96 1)" class="d light">--</text>
<text transform="translate(417.30 875.38) scale(0.96 1)" class="d light">--</text>
<text transform="translate(500.30 875.38) scale(0.96 1)" class="d light">--</text>
<text transform="translate(525.90 875.38) scale(0.96 1)" class="d light">--</text>
<text transform="translate(585.00 875.38) scale(0.86 1)" class="n" text-anchor="middle" style="font-size:13.4px">18</text>
<text transform="translate(609.30 875.38) scale(0.86 1)" class="n" text-anchor="middle" style="font-size:13.4px">44</text>
<text transform="translate(644.95 875.38) scale(0.86 1)" class="n" text-anchor="middle" style="font-size:13.4px">2</text>
<text transform="translate(666.20 875.38) scale(0.86 1)" class="n" text-anchor="middle" style="font-size:13.4px">03</text>
<text transform="translate(89.00 897.45) scale(0.9436 1)">Madurai</text>
<text transform="translate(217.70 897.45) scale(0.86 1)" class="n" text-anchor="middle" style="font-size:13.4px">16</text>
<text transform="translate(238.45 897.45) scale(0.86 1)" class="n" text-anchor="middle" style="font-size:13.4px">40</text>
<text transform="translate(264.00 897.45) scale(0.86 1)" class="n" text-anchor="middle" style="font-size:13.4px">36.9</text>
<text transform="translate(310.90 897.45) scale(0.86 1)" class="n" text-anchor="middle" style="font-size:13.4px">16</text>
<text transform="translate(331.40 897.45) scale(0.86 1)" class="n" text-anchor="middle" style="font-size:13.4px">43</text>
<text transform="translate(356.70 897.45) scale(0.86 1)" class="n" text-anchor="middle" style="font-size:13.4px">48.4</text>
<text transform="translate(397.50 897.45) scale(0.96 1)" class="d light">--</text>
<text transform="translate(417.30 897.45) scale(0.96 1)" class="d light">--</text>
<text transform="translate(500.30 897.45) scale(0.96 1)" class="d light">--</text>
<text transform="translate(525.90 897.45) scale(0.96 1)" class="d light">--</text>
<text transform="translate(585.00 897.45) scale(0.86 1)" class="n" text-anchor="middle" style="font-size:13.4px">18</text>
<text transform="translate(609.30 897.45) scale(0.86 1)" class="n" text-anchor="middle" style="font-size:13.4px">30</text>
<text transform="translate(644.95 897.45) scale(0.86 1)" class="n" text-anchor="middle" style="font-size:13.4px">1</text>
<text transform="translate(666.20 897.45) scale(0.86 1)" class="n" text-anchor="middle" style="font-size:13.4px">49</text>
<text transform="translate(89.00 919.52) scale(0.9135 1)">Mangalore</text>
<text transform="translate(217.70 919.52) scale(0.86 1)" class="n" text-anchor="middle" style="font-size:13.4px">16</text>
<text transform="translate(238.45 919.52) scale(0.86 1)" class="n" text-anchor="middle" style="font-size:13.4px">40</text>
<text transform="translate(264.00 919.52) scale(0.86 1)" class="n" text-anchor="middle" style="font-size:13.4px">40.3</text>
<text transform="translate(310.90 919.52) scale(0.86 1)" class="n" text-anchor="middle" style="font-size:13.4px">16</text>
<text transform="translate(331.40 919.52) scale(0.86 1)" class="n" text-anchor="middle" style="font-size:13.4px">43</text>
<text transform="translate(356.70 919.52) scale(0.86 1)" class="n" text-anchor="middle" style="font-size:13.4px">51.7</text>
<text transform="translate(397.50 919.52) scale(0.96 1)" class="d">--</text>
<text transform="translate(417.30 919.52) scale(0.96 1)" class="d">--</text>
<text transform="translate(500.30 919.52) scale(0.96 1)" class="d">--</text>
<text transform="translate(525.90 919.52) scale(0.96 1)" class="d">--</text>
<text transform="translate(585.00 919.52) scale(0.86 1)" class="n" text-anchor="middle" style="font-size:13.4px">18</text>
<text transform="translate(609.30 919.52) scale(0.86 1)" class="n" text-anchor="middle" style="font-size:13.4px">48</text>
<text transform="translate(644.95 919.52) scale(0.86 1)" class="n" text-anchor="middle" style="font-size:13.4px">2</text>
<text transform="translate(666.20 919.52) scale(0.86 1)" class="n" text-anchor="middle" style="font-size:13.4px">07</text>
<text transform="translate(89.00 941.59) scale(0.9727 1)">Mount Abu</text>
<text transform="translate(217.70 941.59) scale(0.86 1)" class="n" text-anchor="middle" style="font-size:13.4px">16</text>
<text transform="translate(238.45 941.59) scale(0.86 1)" class="n" text-anchor="middle" style="font-size:13.4px">40</text>
<text transform="translate(264.00 941.59) scale(0.86 1)" class="n" text-anchor="middle" style="font-size:13.4px">46.0</text>
<text transform="translate(310.90 941.59) scale(0.86 1)" class="n" text-anchor="middle" style="font-size:13.4px">16</text>
<text transform="translate(331.40 941.59) scale(0.86 1)" class="n" text-anchor="middle" style="font-size:13.4px">43</text>
<text transform="translate(356.70 941.59) scale(0.86 1)" class="n" text-anchor="middle" style="font-size:13.4px">57.6</text>
<text transform="translate(397.50 941.59) scale(0.96 1)" class="d">--</text>
<text transform="translate(417.30 941.59) scale(0.96 1)" class="d">--</text>
<text transform="translate(500.30 941.59) scale(0.96 1)" class="d">--</text>
<text transform="translate(525.90 941.59) scale(0.96 1)" class="d">--</text>
<text transform="translate(585.00 941.59) scale(0.86 1)" class="n" text-anchor="middle" style="font-size:13.4px">19</text>
<text transform="translate(609.30 941.59) scale(0.86 1)" class="n" text-anchor="middle" style="font-size:13.4px">14</text>
<text transform="translate(644.95 941.59) scale(0.86 1)" class="n" text-anchor="middle" style="font-size:13.4px">2</text>
<text transform="translate(666.20 941.59) scale(0.86 1)" class="n" text-anchor="middle" style="font-size:13.4px">33</text>
<text x="89.3" y="963.8" style="font-size:12.04px">“<tspan x="97.4">--</tspan><tspan x="109.1">”</tspan><tspan x="118.2" textLength="180.9" lengthAdjust="spacingAndGlyphs">indicates the event occurs after sunset</tspan></text>
</g>
</svg>
</body></html>
